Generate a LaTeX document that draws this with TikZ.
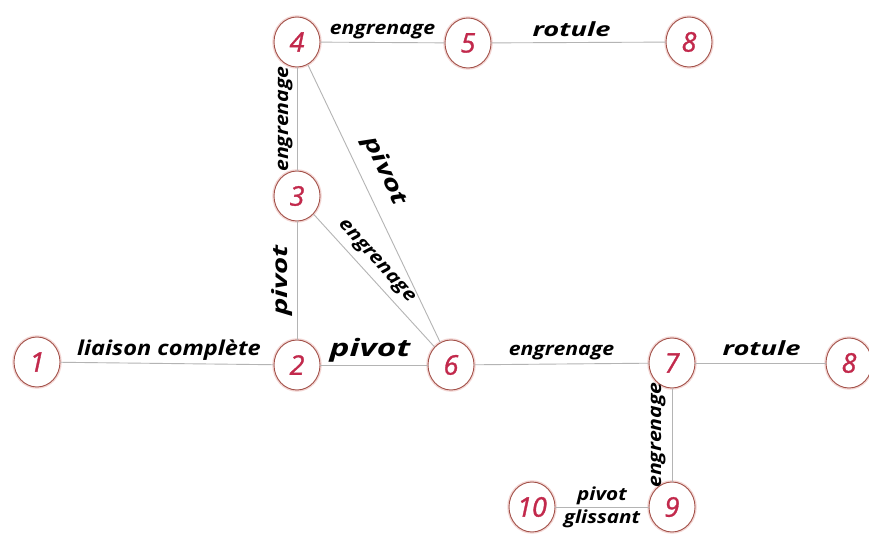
\documentclass[tikz,border=0pt]{standalone}
\usepackage{fontspec}
\setmainfont{Open Sans}
\newfontfamily\numfont[FakeBold=1.2]{Open Sans}
\newfontfamily\labfont[FakeStretch=1.15]{Open Sans}
\newfontfamily\biglabfont[FakeStretch=1.4]{Open Sans}
\usetikzlibrary{shapes.geometric}
\definecolor{ringcol}{HTML}{A3524A}
\definecolor{halocol}{HTML}{F3D6D4}
\definecolor{numcol}{HTML}{C2294C}
\definecolor{linkcol}{HTML}{B4B4B4}
\newcommand\labsize[1]{\labfont\fontsize{#1}{#1}\selectfont\bfseries\itshape}
\newcommand\biglabsize[1]{\biglabfont\fontsize{#1}{#1}\selectfont\bfseries\itshape}
\tikzset{
  part/.style={ellipse, draw=ringcol, line width=0.9pt, fill=white,
    minimum width=46pt, minimum height=50pt, inner sep=0pt,
    text=numcol, font=\numfont\fontsize{27}{27}\selectfont\itshape,
    preaction={draw=halocol, line width=3.5pt}},
  link/.style={draw=linkcol, line width=0.9pt},
  lab/.style={font=\labsize{18.5}, text=black, inner sep=1pt},
  biglab/.style={font=\biglabsize{24}, text=black, inner sep=1pt}
}
\begin{document}
\begin{tikzpicture}[x=1pt,y=1pt]
\useasboundingbox (0,0) rectangle (869,533);
\fill[white] (0,0) rectangle (869,533);
% parts (one node per body; body 8 appears twice)
\node[part] (n1)  at (37,171)  {1};
\node[part] (n2)  at (297,168) {2};
\node[part] (n3)  at (297,337) {3};
\node[part] (n4)  at (297,491) {4};
\node[part] (n5)  at (468,490) {5};
\node[part] (n8a) at (689,491) {8};
\node[part] (n6)  at (451,168) {6};
\node[part] (n7)  at (672,170) {7};
\node[part] (n8b) at (849,170) {8};
\node[part] (n9)  at (672,26)  {9};
\node[part] (n10) at (532,26)  {10};
% joints
\path[link] (n1) -- node[lab, above=2pt, xshift=2pt, font=\labsize{20.5}] {liaison complète} (n2);
\path[link] (n2) -- node[biglab, above=1pt, xshift=-4pt] {pivot} (n6);
\path[link] (n6) -- node[lab, above=3pt] {engrenage} (n7);
\path[link] (n7) -- node[biglab, above=6pt, xshift=1pt, font=\biglabsize{19.5}] {rotule} (n8b);
\path[link] (n4) -- node[lab, above=2pt] {engrenage} (n5);
\path[link] (n5) -- node[biglab, above=4pt, xshift=-7pt, font=\biglabsize{19.5}] {rotule} (n8a);
\path[link] (n3) -- node[lab, sloped, above=3pt] {engrenage} (n4);
\path[link] (n2) -- node[biglab, sloped, above=3pt, font=\biglabsize{21}] {pivot} (n3);
\path[link] (n9) -- node[lab, sloped, above=5pt] {engrenage} (n7);
\path[link] (n4) -- node[biglab, sloped, above=11pt, pos=0.42, font=\biglabsize{22}] {pivot} (n6);
\path[link] (n3) -- node[lab, sloped, above=5pt, pos=0.43] {engrenage} (n6);
\path[link] (n10) -- node[lab, above=1pt, font=\labsize{18}] {pivot}
  node[lab, below=1pt, font=\labsize{18}] {glissant} (n9);
\end{tikzpicture}
\end{document}
